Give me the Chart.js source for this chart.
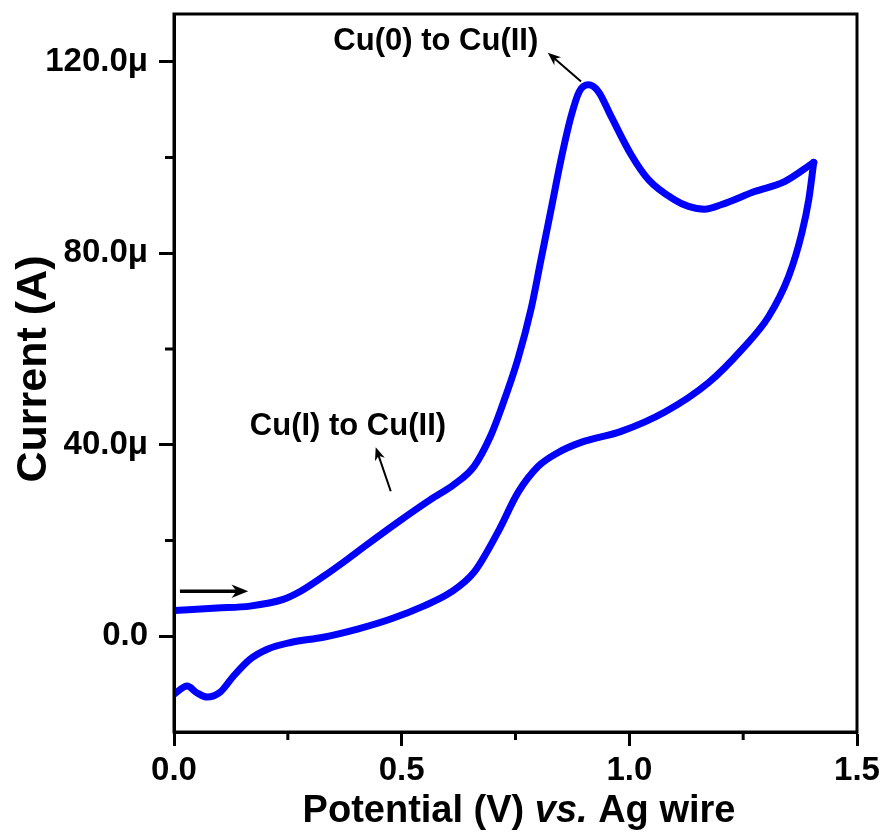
<!DOCTYPE html>
<html>
<head>
<meta charset="utf-8">
<script src="https://cdn.jsdelivr.net/npm/chart.js@4/dist/chart.umd.min.js"></script>
<style>
  html, body { margin: 0; padding: 0; background: #fff; }
</style>
</head>
<body>
<canvas id="myChart" width="885" height="840"></canvas>
<script>
// forward (anodic) sweep, potential in V, current in µA
const fwdX = [0.000, 0.095, 0.167, 0.240, 0.278, 0.328, 0.381, 0.416, 0.491, 0.564, 0.615, 0.659, 0.696, 0.718, 0.755, 0.784, 0.806, 0.828, 0.850, 0.872, 0.890, 0.910, 0.932, 0.960, 1.004, 1.042, 1.099, 1.130, 1.165, 1.203, 1.275, 1.341, 1.405];
const fwdY = [5.4, 5.9, 6.3, 7.7, 9.4, 12.5, 16.1, 18.6, 23.8, 28.6, 31.7, 35.5, 42.0, 47.4, 57.8, 68.3, 78.7, 89.1, 99.6, 108.6, 113.8, 115.2, 113.8, 108.6, 100.6, 95.4, 91.2, 89.8, 89.2, 90.2, 92.9, 95.0, 99.0];

// reverse sweep
const revX = [1.405, 1.394, 1.379, 1.350, 1.306, 1.247, 1.174, 1.077, 0.982, 0.894, 0.844, 0.800, 0.756, 0.711, 0.659, 0.608, 0.548, 0.476, 0.403, 0.328, 0.256, 0.205, 0.167, 0.130, 0.101, 0.073, 0.050, 0.029, 0.000];
const revY = [99.0, 91.2, 84.3, 75.2, 66.8, 59.9, 53.0, 46.8, 42.8, 40.5, 38.4, 35.5, 30.1, 21.7, 13.4, 9.2, 6.3, 3.6, 1.5, -0.2, -1.3, -2.7, -4.8, -8.4, -11.7, -12.7, -11.8, -10.4, -12.1];

const xMajor = [0, 0.5, 1.0, 1.5];
const xMinor = [0.25, 0.75, 1.25];
const yMajor = [0, 40, 80, 120];
const yMinor = [20, 60, 100];
const xTickLabels = ["0.0", "0.5", "1.0", "1.5"];
const yTickLabels = ["0.0", "40.0μ", "80.0μ", "120.0μ"];

// annotation labels and arrows (data coordinates)
const notes = [
  { text: "Cu(0) to Cu(II)", x: 0.575, y: 124.2 },
  { text: "Cu(I) to Cu(II)", x: 0.382, y: 43.8 },
];
const arrows = [
  { from: [0.894, 115.9], to: [0.821, 121.9], width: 2, head: 14 },
  { from: [0.476, 30.3], to: [0.443, 39.5], width: 2, head: 14 },
  { from: [0.013, 9.4], to: [0.163, 9.4], width: 3.5, head: 18 },
];

const FONT = '"Liberation Sans", Arial, Helvetica, sans-serif';
const BLUE = "#0000FF";

function toPoints(xs, ys) {
  return xs.map((x, i) => ({ x: x, y: ys[i] }));
}

function drawArrow(ctx, x1, y1, x2, y2, w, head) {
  const ang = Math.atan2(y2 - y1, x2 - x1);
  ctx.save();
  ctx.strokeStyle = "#000";
  ctx.fillStyle = "#000";
  ctx.lineWidth = w;
  ctx.beginPath();
  ctx.moveTo(x1, y1);
  ctx.lineTo(x2 - Math.cos(ang) * head * 0.6, y2 - Math.sin(ang) * head * 0.6);
  ctx.stroke();
  ctx.beginPath();
  ctx.moveTo(x2, y2);
  ctx.lineTo(x2 - head * Math.cos(ang - 0.38), y2 - head * Math.sin(ang - 0.38));
  ctx.lineTo(x2 - head * 0.65 * Math.cos(ang), y2 - head * 0.65 * Math.sin(ang));
  ctx.lineTo(x2 - head * Math.cos(ang + 0.38), y2 - head * Math.sin(ang + 0.38));
  ctx.closePath();
  ctx.fill();
  ctx.restore();
}

const decor = {
  id: "decor",
  afterDraw(chart) {
    const ctx = chart.ctx;
    const a = chart.chartArea;
    const xs = chart.scales.x;
    const ys = chart.scales.y;

    // frame
    ctx.save();
    ctx.strokeStyle = "#000";
    ctx.lineWidth = 3;
    ctx.strokeRect(a.left, a.top, a.right - a.left, a.bottom - a.top);

    // minor ticks
    ctx.beginPath();
    xMinor.forEach((v) => {
      const px = xs.getPixelForValue(v);
      ctx.moveTo(px, a.bottom);
      ctx.lineTo(px, a.bottom + 8);
    });
    yMinor.forEach((v) => {
      const py = ys.getPixelForValue(v);
      ctx.moveTo(a.left, py);
      ctx.lineTo(a.left - 9, py);
    });
    ctx.stroke();

    // annotation text
    ctx.fillStyle = "#000";
    ctx.font = "bold 31px " + FONT;
    ctx.textAlign = "center";
    ctx.textBaseline = "middle";
    notes.forEach((n) => {
      ctx.fillText(n.text, xs.getPixelForValue(n.x), ys.getPixelForValue(n.y));
    });
    ctx.restore();

    arrows.forEach((ar) => {
      drawArrow(
        ctx,
        xs.getPixelForValue(ar.from[0]), ys.getPixelForValue(ar.from[1]),
        xs.getPixelForValue(ar.to[0]), ys.getPixelForValue(ar.to[1]),
        ar.width, ar.head
      );
    });

    // axis titles
    ctx.save();
    ctx.fillStyle = "#000";
    ctx.textBaseline = "middle";
    const parts = [
      { t: "Potential (V) ", f: "bold 38px " + FONT },
      { t: "vs.", f: "italic bold 38px " + FONT },
      { t: " Ag wire", f: "bold 38px " + FONT },
    ];
    let total = 0;
    parts.forEach((p) => {
      ctx.font = p.f;
      p.w = ctx.measureText(p.t).width;
      total += p.w;
    });
    let cx = 519 - total / 2;
    ctx.textAlign = "left";
    parts.forEach((p) => {
      ctx.font = p.f;
      ctx.fillText(p.t, cx, 812);
      cx += p.w;
    });

    ctx.translate(34, 369);
    ctx.rotate(-Math.PI / 2);
    ctx.textAlign = "center";
    ctx.font = "bold 43px " + FONT;
    ctx.fillText("Current (A)", 0, 0);
    ctx.restore();
  },
};

const ctx = document.getElementById("myChart");

const chart = new Chart(ctx, {
  type: "scatter",
  data: {
    datasets: [
      {
        data: toPoints(fwdX, fwdY),
        showLine: true,
        borderColor: BLUE,
        borderWidth: 7,
        cubicInterpolationMode: "monotone",
        pointRadius: 0,
        borderCapStyle: "round",
        borderJoinStyle: "round",
      },
      {
        data: toPoints(revX, revY),
        showLine: true,
        borderColor: BLUE,
        borderWidth: 7,
        cubicInterpolationMode: "monotone",
        pointRadius: 0,
        borderCapStyle: "round",
        borderJoinStyle: "round",
      },
    ],
  },
  options: {
    responsive: false,
    animation: false,
    layout: { padding: { left: 0, top: 14, right: 28, bottom: 0 } },
    plugins: {
      legend: { display: false },
      tooltip: { enabled: false },
    },
    scales: {
      x: {
        type: "linear",
        min: 0,
        max: 1.5,
        afterFit: (scale) => {
          scale.height = 108;
          scale.paddingLeft = 0;
          scale.paddingRight = 0;
        },
        afterBuildTicks: (scale) => {
          scale.ticks = xMajor.map((v) => ({ value: v }));
        },
        ticks: {
          color: "#000",
          font: { family: FONT, size: 33, weight: "bold" },
          padding: 5,
          maxRotation: 0,
          callback: (v) => xTickLabels[xMajor.indexOf(v)],
        },
        grid: {
          drawOnChartArea: false,
          drawTicks: true,
          tickLength: 14,
          tickWidth: 3,
          tickColor: "#000",
        },
        border: { display: true, color: "#000", width: 3 },
      },
      y: {
        type: "linear",
        min: -20,
        max: 130,
        afterFit: (scale) => {
          scale.width = 174;
          scale.paddingTop = 0;
          scale.paddingBottom = 0;
        },
        afterBuildTicks: (scale) => {
          scale.ticks = yMajor.map((v) => ({ value: v }));
        },
        ticks: {
          color: "#000",
          font: { family: FONT, size: 33, weight: "bold" },
          padding: 11,
          callback: (v) => yTickLabels[yMajor.indexOf(v)],
        },
        grid: {
          drawOnChartArea: false,
          drawTicks: true,
          tickLength: 15,
          tickWidth: 3,
          tickColor: "#000",
        },
        border: { display: true, color: "#000", width: 3 },
      },
    },
  },
  plugins: [decor],
});
</script>
</body>
</html>
